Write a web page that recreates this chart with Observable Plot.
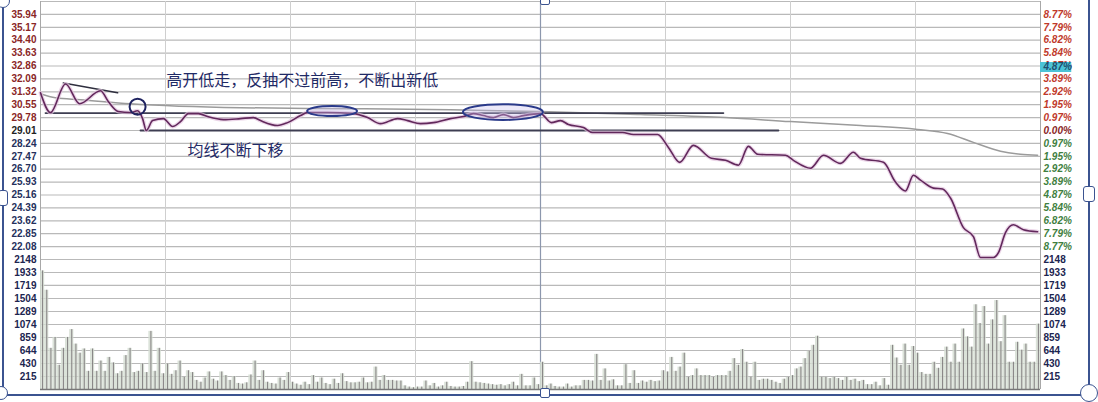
<!DOCTYPE html>
<html><head><meta charset="utf-8">
<script src="https://cdn.jsdelivr.net/npm/d3@7"></script>
<script src="https://cdn.jsdelivr.net/npm/@observablehq/plot@0.6"></script>
<style>
html,body{margin:0;padding:0;background:#fff;}
#wrap{position:relative;width:1098px;height:402px;overflow:hidden;background:#fff;}
#price{position:absolute;left:0;top:0;}
#vol{position:absolute;left:0;top:250px;}
.fl{position:absolute;background:#3b5390;}
.hd{position:absolute;background:#fff;border:1.5px solid #3b5390;box-sizing:border-box;}
</style></head>
<body><div id="wrap"><div id="price"></div><div id="vol"></div>
<div class="fl" style="left:2px;top:0;width:2px;height:396px"></div>
<div class="fl" style="left:1088px;top:0;width:2px;height:396px"></div>
<div class="fl" style="left:0;top:394px;width:1090px;height:2px"></div>
<div class="hd" style="left:-4px;top:-6px;width:14px;height:14px;border-radius:7px"></div>
<div class="hd" style="left:540px;top:-4px;width:10px;height:9px;border-radius:2px"></div>
<div class="hd" style="left:-2px;top:190px;width:10px;height:16px;border-radius:3px"></div>
<div class="hd" style="left:1083px;top:186px;width:12px;height:16px;border-radius:3px"></div>
<div class="hd" style="left:540px;top:388px;width:10px;height:10px;border-radius:2px"></div>
<div class="hd" style="left:1080px;top:384px;width:18px;height:18px;border-radius:9px"></div>
<div class="hd" style="left:-6px;top:386px;width:14px;height:14px;border-radius:7px"></div>
</div>
<script>
// ---- time axis (minutes from open) ----
const minuteTicks = [0, 30, 60, 90, 120, 150, 180, 210, 240];

// ---- price axis ----
const prevClose = 29.01;
const priceGrid = [21.31,22.08,22.85,23.62,24.39,25.16,25.93,26.70,27.47,28.24,29.01,29.78,30.55,31.32,32.09,32.86,33.63,34.40,35.17,35.94,36.71];
const priceLabelsUp = [29.78,30.55,31.32,32.09,32.86,33.63,34.40,35.17,35.94];
const priceLabelsDown = [22.08,22.85,23.62,24.39,25.16,25.93,26.70,27.47,28.24];
const pctLabelsUp = ["0.97%","1.95%","2.92%","3.89%","4.87%","5.84%","6.82%","7.79%","8.77%"];
const pctLabelsDown = ["8.77%","7.79%","6.82%","5.84%","4.87%","3.89%","2.92%","1.95%","0.97%"];
const pctLabelCenter = "0.00%";
const markerPrice = [32.80];
const markerLabel = ["4.87%"];

// ---- price line ----
const priceMinutes = [0,2.4,6.0,9.4,14.4,16.3,18.7,21.6,23.3,24.5,25.4,26.9,29.5,31.7,33.6,35.5,37.9,40.1,43.9,48.0,51.1,52.8,56.9,59.3,62.4,64.1,68.9,75.1,78.5,81.6,85.7,88.1,91.2,94.3,98.4,101.5,103.9,106.3,108.7,111.1,113.5,115.9,120,122.6,124.8,126.7,130.3,132.5,139.7,142.3,148.1,150.7,153.4,156.7,161.0,164.4,167.5,169.9,172.1,178.8,180.7,184.8,187.9,192.0,195.1,196.8,202.3,205.2,207.6,209.5,211.2,214.3,216.5,218.4,221.5,223.9,225.6,228.7,229.9,231.6,233.5,235.9,239.3];
const priceValues = [31.26,30.08,31.79,30.61,31.38,30.73,30.14,30.08,30.19,29.72,29.01,29.60,29.72,29.25,29.54,30.02,30.02,29.84,29.66,29.72,29.78,29.60,29.31,29.48,29.90,30.08,30.08,30.02,29.78,29.42,29.72,29.60,29.42,29.48,29.72,29.84,30.02,29.90,29.78,29.96,29.78,29.90,30.02,29.48,29.60,29.37,29.19,28.89,28.89,28.77,28.77,28.00,27.11,28.12,27.35,27.23,26.94,28.06,27.59,27.53,27.23,26.76,27.53,27.05,27.71,27.35,27.11,25.93,25.40,26.34,26.05,25.57,25.52,24.98,23.21,22.67,21.43,21.43,21.72,22.91,23.38,23.09,22.97];

// ---- average price line ----
const avgMinutes = [0,3.6,9.6,21.6,48,74.4,98.4,120,144,164.4,180,196.8,210.5,217.7,223.9,230.4,235.2,239.3];
const avgValues = [31.20,30.96,30.85,30.61,30.37,30.31,30.25,30.14,29.96,29.78,29.54,29.31,29.07,28.83,28.30,27.77,27.59,27.53];

// ---- volume per minute ----
const volume = [
1960,1640,680,860,400,680,860,990,750,600,
670,300,670,300,470,300,530,440,260,300,
560,680,280,300,420,280,960,300,680,260,
420,250,310,470,200,310,280,150,120,190,
290,170,140,290,230,150,210,100,90,110,
240,470,150,310,120,100,90,190,150,280,
120,90,70,120,80,230,120,190,100,80,
170,100,260,130,110,110,120,190,110,120,
370,150,230,150,150,140,140,60,40,30,
40,40,140,60,100,40,60,120,50,40,
40,50,120,460,120,110,100,90,80,70,
80,60,80,120,60,250,60,60,190,80,
450,60,90,50,40,40,90,40,60,60,
150,150,140,580,150,340,140,160,60,60,
410,100,310,100,140,120,150,130,140,310,
290,530,300,370,600,200,230,340,230,230,
230,200,230,230,230,300,510,400,660,450,
200,450,150,170,170,150,120,100,170,200,
230,340,370,510,630,730,880,200,200,180,
200,180,150,200,150,170,130,150,80,80,
120,60,180,70,730,520,400,750,400,710,
600,280,250,250,450,350,530,700,450,750,
450,1000,870,700,1400,1090,1370,750,1150,1470,
790,1220,450,450,780,650,750,450,450,1080];
const volGrid = [0,215,430,644,859,1074,1289,1504,1719,1933,2148];
const volLabels = [215,430,644,859,1074,1289,1504,1719,1933,2148];

// ---- annotations ----
const resistMinutes = [5.5, 18.5];
const resistPrices = [31.85, 31.26];
const supportMinutes = [1.2, 163.9];
const supportPrices = [30.05, 30.05];
const lowMinutes = [24, 177.1];
const lowPrices = [29.01, 29.01];
const circleMinute = [23.3];
const circlePrice = [30.43];
const ellipseMinutes = [70.1, 111.1];
const ellipsePrices = [30.14, 30.08];
const ellipseHalfMinutes = [6, 9.6];
const ellipseHalfPrices = [0.3, 0.47];
const noteTexts = ["高开低走，反抽不过前高，不断出新低", "均线不断下移"];
const noteMinutes = [30.2, 35.3];
const notePrices = [31.97, 27.77];

const axisFont = {fontFamily: "'Liberation Sans', 'DejaVu Sans', sans-serif", fontSize: 10, fontWeight: "bold"};
const upMap = new Map(priceLabelsUp.map((p, i) => [p, pctLabelsUp[i]]));
const downMap = new Map(priceLabelsDown.map((p, i) => [p, pctLabelsDown[i]]));

const pricePlot = Plot.plot({
  width: 1098, height: 260,
  marginTop: 1, marginBottom: 1, marginLeft: 40, marginRight: 58,
  style: "background: transparent; overflow: visible;",
  x: {domain: [0, 240], axis: null},
  y: {domain: [21.31, 36.71]},
  marks: [
    Plot.gridY(priceGrid, {stroke: "#b9b9b9", strokeOpacity: 1, strokeWidth: 1.2}),
    Plot.gridX(minuteTicks, {stroke: "#cfcfcf", strokeOpacity: 1}),
    Plot.ruleX([120], {stroke: "#8c97ad", strokeWidth: 1.2}),
    Plot.ruleX([0, 240], {stroke: "#a8a8a8"}),
    Plot.line(avgMinutes, {x: d => d, y: (d, i) => avgValues[i], stroke: "#9b9b9b", strokeWidth: 1.5, curve: "monotone-x"}),
    Plot.line(supportMinutes, {x: d => d, y: (d, i) => supportPrices[i], stroke: "#3e3e52", strokeWidth: 1.8}),
    Plot.line(lowMinutes, {x: d => d, y: (d, i) => lowPrices[i], stroke: "#3e3e52", strokeWidth: 1.8}),
    Plot.line(resistMinutes, {x: d => d, y: (d, i) => resistPrices[i], stroke: "#2e2e3e", strokeWidth: 1.6}),
    Plot.line(priceMinutes, {x: d => d, y: (d, i) => priceValues[i], stroke: "#e2c4de", strokeWidth: 4, strokeOpacity: 0.7, curve: "monotone-x"}),
    Plot.line(priceMinutes, {x: d => d, y: (d, i) => priceValues[i], stroke: "#62285c", strokeWidth: 1.6, curve: "monotone-x"}),
    Plot.dot(circleMinute, {x: d => d, y: (d, i) => circlePrice[i], r: 8, stroke: "#1f2360", strokeWidth: 2, fill: "none"}),
    Plot.text(noteTexts, {x: (d, i) => noteMinutes[i], y: (d, i) => notePrices[i], text: d => d, textAnchor: "start", fill: "#1f2a66", fontSize: 16, fontFamily: "'Noto Sans CJK SC', sans-serif", ariaLabel: "annot"}),
    Plot.axisY(priceLabelsUp, {anchor: "left", tickSize: 0, tickPadding: 4, tickFormat: d3.format(".2f"), fill: "#8a2626", label: null, ...axisFont}),
    Plot.axisY(priceLabelsDown, {anchor: "left", tickSize: 0, tickPadding: 4, tickFormat: d3.format(".2f"), fill: "#25305c", label: null, ...axisFont}),
    Plot.axisY([prevClose], {anchor: "left", tickSize: 0, tickPadding: 4, tickFormat: d3.format(".2f"), fill: "#222", label: null, ...axisFont}),
    Plot.axisY(priceLabelsUp, {anchor: "right", tickSize: 0, tickPadding: 3, tickFormat: d => upMap.get(d), fill: "#c0392b", label: null, ...axisFont, fontStyle: "italic"}),
    Plot.axisY(priceLabelsDown, {anchor: "right", tickSize: 0, tickPadding: 3, tickFormat: d => downMap.get(d), fill: "#3f7f3f", label: null, ...axisFont, fontStyle: "italic"}),
    Plot.axisY([prevClose], {anchor: "right", tickSize: 0, tickPadding: 3, tickFormat: () => pctLabelCenter, fill: "#8a2626", label: null, ...axisFont, fontStyle: "italic"}),
    Plot.ruleY(markerPrice, {x1: 240, x2: 247.5, stroke: "#4cc3d6", strokeWidth: 10}),
    Plot.text(markerPrice, {x: 240, y: d => d, dx: 3, text: (d, i) => markerLabel[i], textAnchor: "start", fill: "#1f4f6f", ...axisFont, fontStyle: "italic"})
  ]
});

// ellipse annotations placed through the plot's own scales
{
  const sx = pricePlot.scale("x"), sy = pricePlot.scale("y");
  const svg = d3.select(pricePlot);
  ellipseMinutes.forEach((m, i) => {
    const cx = sx.apply(m), cy = sy.apply(ellipsePrices[i]);
    const rx = sx.apply(m + ellipseHalfMinutes[i]) - cx;
    const ry = cy - sy.apply(ellipsePrices[i] + ellipseHalfPrices[i]);
    svg.append("ellipse").attr("cx", cx).attr("cy", cy).attr("rx", rx).attr("ry", ry)
      .attr("fill", "#c9bfee").attr("fill-opacity", 0.35).attr("stroke", "#2a3a8a").attr("stroke-width", 2);
  });
  svg.selectAll('g[aria-label="annot"] text').style("letter-spacing", "4.5px");
}
document.getElementById("price").appendChild(pricePlot);

const volPlot = Plot.plot({
  width: 1098, height: 152,
  marginTop: 9, marginBottom: 13, marginLeft: 40, marginRight: 58,
  style: "background: transparent; overflow: visible;",
  x: {domain: [0, 240], axis: null},
  y: {domain: [0, 2148]},
  marks: [
    Plot.gridY(volGrid, {stroke: "#b9b9b9", strokeOpacity: 1, strokeWidth: 1.2}),
    Plot.gridX(minuteTicks, {stroke: "#cfcfcf", strokeOpacity: 1}),
    Plot.ruleX([120], {stroke: "#8c97ad", strokeWidth: 1.2}),
    Plot.ruleX([0, 240], {stroke: "#a8a8a8"}),
    Plot.rectY(volume, {x1: (d, i) => i, x2: (d, i) => i + 1, y: d => d, fill: "#d5ddd2", fillOpacity: 0.85}),
    Plot.ruleX(volume, {x: (d, i) => i + 0.5, y: d => d, stroke: "#4a4048", strokeWidth: 1, strokeOpacity: 0.6}),
    Plot.ruleY([0], {stroke: "#777", strokeWidth: 1.5}),
    Plot.axisY(volLabels, {anchor: "left", tickSize: 0, tickPadding: 4, tickFormat: d => String(d), fill: "#1c2550", label: null, ...axisFont}),
    Plot.axisY(volLabels, {anchor: "right", tickSize: 0, tickPadding: 3, tickFormat: d => String(d), fill: "#1c2550", label: null, ...axisFont})
  ]
});
document.getElementById("vol").appendChild(volPlot);
</script>
</body></html>
